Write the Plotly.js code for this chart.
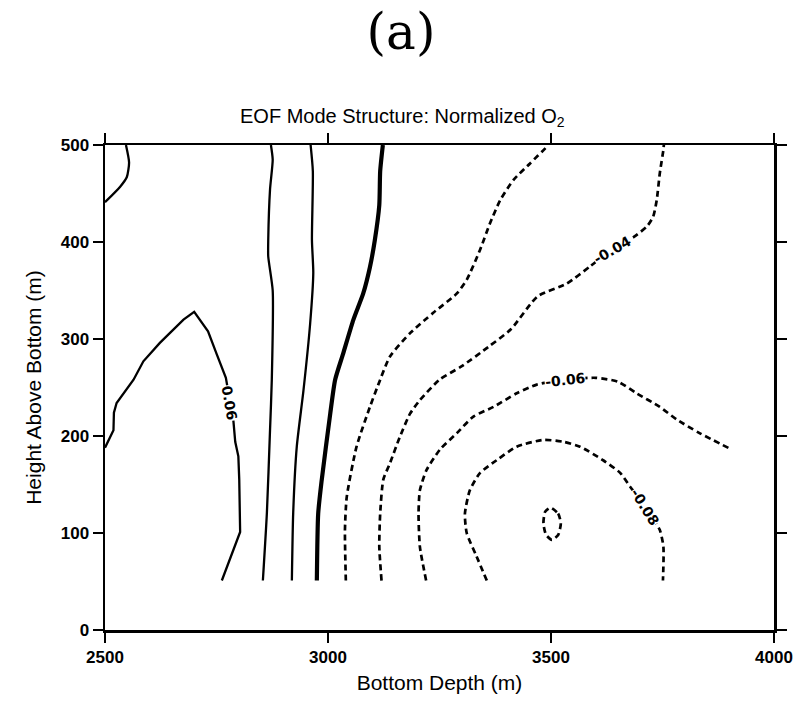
<!DOCTYPE html>
<html>
<head>
<meta charset="utf-8">
<script src="https://cdn.plot.ly/plotly-3.0.1.min.js"></script>
<style>html,body{margin:0;padding:0;background:#fff;}#chart{width:802px;height:705px;}</style>
</head>
<body>
<div id="chart"></div>
<script>
// Contour polylines (x = bottom depth m, y = height above bottom m)
const c06a_x = [2547, 2554, 2549, 2534, 2500];
const c06a_y = [500, 482, 467, 457, 441];

const c06b_x = [2500, 2504, 2519, 2520, 2526, 2564, 2586, 2623, 2676, 2700, 2731, 2750, 2771, 2788, 2792, 2799, 2801, 2803, 2762];
const c06b_y = [188, 192, 206, 224, 234, 258, 277, 296, 320, 328, 308, 285, 260, 215, 194, 179, 155, 101, 51];

const c04_x = [2872, 2876, 2870, 2866, 2866, 2876, 2874, 2870, 2863, 2854];
const c04_y = [500, 485, 454, 402, 385, 350, 258, 206, 121, 51];

const c02_x = [2961, 2966, 2964, 2967, 2960, 2945, 2930, 2922, 2919];
const c02_y = [500, 473, 402, 368, 316, 247, 189, 121, 51];

const c00_x = [3123, 3117, 3115, 3105, 3094, 3079, 3057, 3034, 3016, 3005, 2986, 2978, 2975];
const c00_y = [500, 473, 438, 402, 374, 347, 320, 285, 258, 223, 155, 120, 51];

const cm02_x = [3040, 3038, 3042, 3064, 3094, 3112, 3139, 3184, 3236, 3289, 3311, 3341, 3363, 3386, 3416, 3453, 3490, 3493];
const cm02_y = [51, 103, 137, 189, 230, 252, 282, 306, 327, 347, 361, 392, 419, 443, 464, 481, 498, 500];

const cm04_x = [3120, 3115, 3117, 3124, 3139, 3161, 3184, 3206, 3250, 3300, 3360, 3410, 3470, 3535, 3588, 3637, 3685, 3715, 3729, 3737, 3744, 3752, 3753];
const cm04_y = [51, 86, 120, 155, 172, 199, 223, 237, 258, 272, 292, 310, 344, 357, 375, 392, 405, 416, 426, 443, 471, 495, 500];

const cm06_x = [3220, 3206, 3203, 3206, 3221, 3251, 3289, 3326, 3371, 3423, 3468, 3531, 3600, 3650, 3692, 3744, 3782, 3833, 3901];
const cm06_y = [51, 86, 120, 144, 165, 186, 203, 220, 230, 244, 253, 258, 260, 256, 244, 230, 217, 203, 187];

const cm08_x = [3356, 3333, 3311, 3307, 3318, 3341, 3378, 3423, 3483, 3528, 3565, 3617, 3655, 3677, 3713, 3744, 3752, 3751];
const cm08_y = [51, 76, 100, 120, 144, 162, 175, 189, 196, 194, 189, 175, 162, 148, 126, 103, 86, 51];

const cm10_x = [3499, 3516, 3522, 3516, 3502, 3489, 3483, 3487, 3499];
const cm10_y = [126, 120, 110, 98, 93, 98, 110, 122, 126];

// Contour labels
const lab_text = ["0.06", "-0.04", "-0.06", "-0.08"];
const lab_x = [2779, 3637, 3531, 3711];
const lab_y = [234, 392, 258, 127];
const lab_angle = [80, -30, -6, 58];

const xTicks = [2500, 3000, 3500, 4000];
const yTicks = [0, 100, 200, 300, 400, 500];

const solid = {color: '#000', width: 2.3};
const dashed = {color: '#000', width: 2.7, dash: '6px,4px'};
function tr(x, y, line, shape) {
  return {type: 'scatter', mode: 'lines', x: x, y: y, line: Object.assign({shape: shape || 'spline', smoothing: 0.6}, line), hoverinfo: 'skip', showlegend: false};
}
const traces = [
  tr(c06a_x, c06a_y, solid),
  tr(c06b_x, c06b_y, solid, 'linear'),
  tr(c04_x, c04_y, solid),
  tr(c02_x, c02_y, solid),
  tr(c00_x, c00_y, {color: '#000', width: 4.2}),
  tr(cm02_x, cm02_y, dashed),
  tr(cm04_x, cm04_y, dashed),
  tr(cm06_x, cm06_y, dashed),
  tr(cm08_x, cm08_y, dashed),
  tr(cm10_x, cm10_y, dashed)
];

const font = 'Liberation Sans, Arial, sans-serif';
const annotations = lab_text.map((t, i) => ({
  x: lab_x[i], y: lab_y[i], xref: 'x', yref: 'y', text: '<b>' + t + '</b>', showarrow: false,
  textangle: lab_angle[i], font: {family: 'DejaVu Sans, sans-serif', size: 14, color: '#000', weight: 'bold'}, bgcolor: '#fff', borderpad: 0
}));
annotations.push({
  xref: 'paper', yref: 'paper', x: 0.445, y: 1, yshift: 42, text: 'EOF Mode Structure: Normalized O<sub>2</sub>',
  showarrow: false, font: {family: font, size: 20, color: '#000'}
});

const axisCommon = {
  showline: true, linecolor: '#000', linewidth: 2.5, mirror: 'ticks', ticks: 'outside', ticklen: 10, tickwidth: 2,
  tickcolor: '#000', showgrid: false, zeroline: false, tickfont: {family: font, size: 17, color: '#000', weight: 'bold'}
};

const layout = {
  width: 802, height: 705,
  margin: {l: 105, r: 28, t: 145, b: 75},
  paper_bgcolor: '#fff', plot_bgcolor: '#fff',
  title: {text: '(a)', font: {family: 'DejaVu Serif, Liberation Serif, serif', size: 50, color: '#000'}, x: 0.5, xanchor: 'center', y: 0.955, yanchor: 'middle'},
  xaxis: Object.assign({}, axisCommon, {range: [2500, 4000], tickvals: xTicks, ticktext: xTicks.map(String),
    title: {text: 'Bottom Depth (m)', font: {family: font, size: 21, color: '#000'}, standoff: 10}}),
  yaxis: Object.assign({}, axisCommon, {range: [0, 500], tickvals: yTicks, ticktext: yTicks.map(String),
    title: {text: 'Height Above Bottom (m)', font: {family: font, size: 21, color: '#000'}, standoff: 14}}),
  annotations: annotations
};

Plotly.newPlot('chart', traces, layout, {displayModeBar: false, staticPlot: true});
</script>
</body>
</html>
